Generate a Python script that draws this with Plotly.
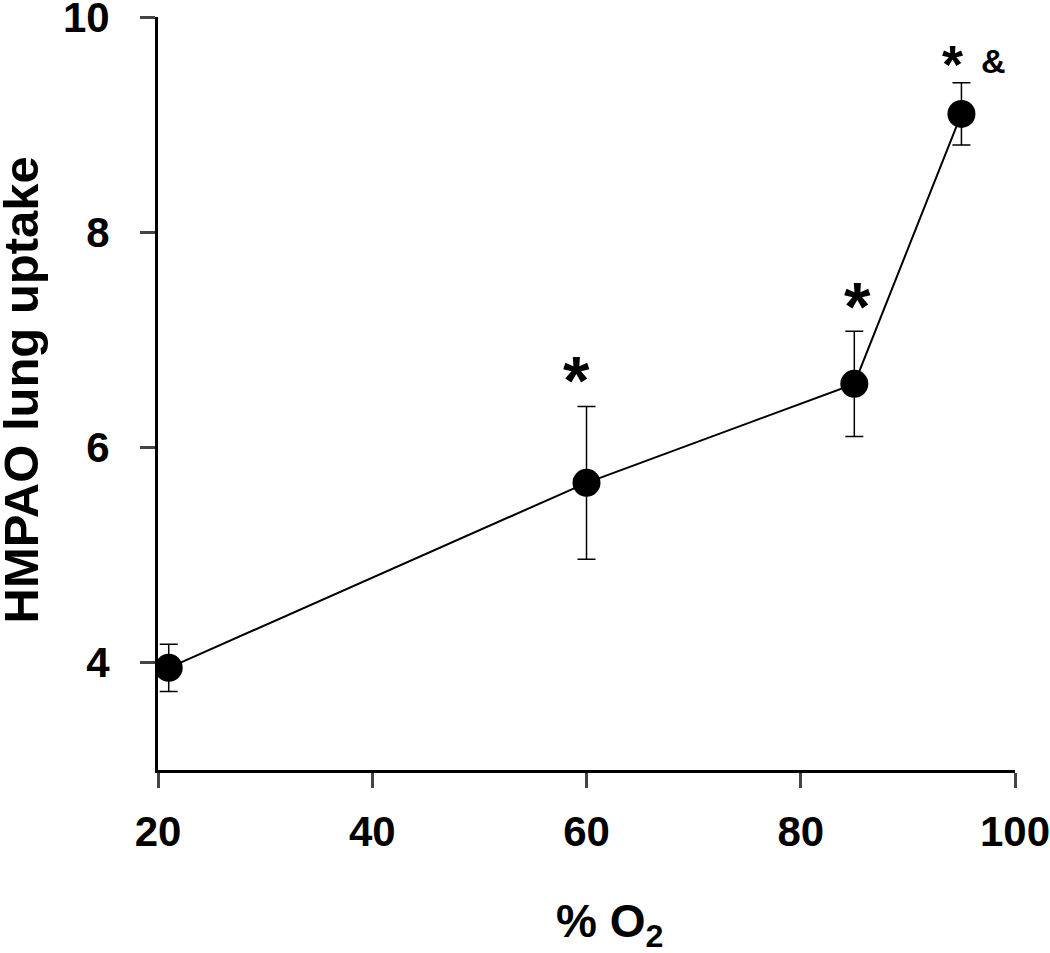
import plotly.graph_objects as go

o2 = [21, 60, 85, 95]
uptake = [3.95, 5.67, 6.59, 9.10]
err = [0.22, 0.71, 0.49, 0.29]
x_ticks = [20, 40, 60, 80, 100]
y_ticks = [4, 6, 8, 10]

FONT = "Liberation Sans, Arial, sans-serif"

fig = go.Figure()
fig.add_trace(go.Scatter(
    x=o2, y=uptake, mode="lines+markers",
    line=dict(color="black", width=2),
    marker=dict(color="black", size=28),
    error_y=dict(type="data", array=err, visible=True, color="black", thickness=1.5, width=9),
    showlegend=False,
))

ann = [
    dict(x=60, y=uptake[1] + err[1], text="*", size=68, dx=-10, dy=-26),
    dict(x=85, y=uptake[2] + err[2], text="*", size=68, dx=3, dy=-25),
    dict(x=95, y=uptake[3] + err[3], text="*", size=54, dx=-9, dy=-19),
    dict(x=95, y=uptake[3] + err[3], text="&", size=34, dx=32, dy=-22),
]
for a in ann:
    fig.add_annotation(x=a["x"], y=a["y"], text=a["text"], showarrow=False,
                       xshift=a["dx"], yshift=-a["dy"],
                       font=dict(family=FONT, size=a["size"], color="black", weight="bold"))

# axis titles as paper annotations, placed as in the reference
fig.add_annotation(xref="paper", yref="paper", x=0.527, y=-0.163, xanchor="center", yanchor="top",
                   text="% O<sub>2</sub>", showarrow=False,
                   font=dict(family=FONT, size=46, color="black", weight="bold"))
fig.add_annotation(xref="paper", yref="paper", x=-0.194, y=0.505, xanchor="left", yanchor="middle",
                   text="HMPAO lung uptake", textangle=-90, showarrow=False,
                   font=dict(family=FONT, size=49, color="black", weight="bold"))

fig.update_layout(
    width=1050, height=953,
    margin=dict(l=158, r=35, t=17, b=183),
    plot_bgcolor="white", paper_bgcolor="white",
    font=dict(family=FONT, color="black"),
)
fig.update_xaxes(
    range=[20, 100], tickvals=x_ticks, ticks="outside", ticklen=15, tickwidth=3,
    showline=True, linecolor="black", linewidth=3, showgrid=False, zeroline=False,
    automargin=False, ticklabeloverflow="allow", ticklabelstandoff=8,
    tickfont=dict(family=FONT, size=42, color="black", weight="bold"),
)
fig.update_yaxes(
    range=[3, 10.001], tickvals=y_ticks, ticks="outside", ticklen=15, tickwidth=3,
    showline=True, linecolor="black", linewidth=3, showgrid=False, zeroline=False,
    automargin=False, ticklabeloverflow="allow", ticklabelstandoff=22,
    tickfont=dict(family=FONT, size=42, color="black", weight="bold"),
)
fig.write_html("out.html", post_script="document.body.style.margin='0';",
               config={"displayModeBar": False})
